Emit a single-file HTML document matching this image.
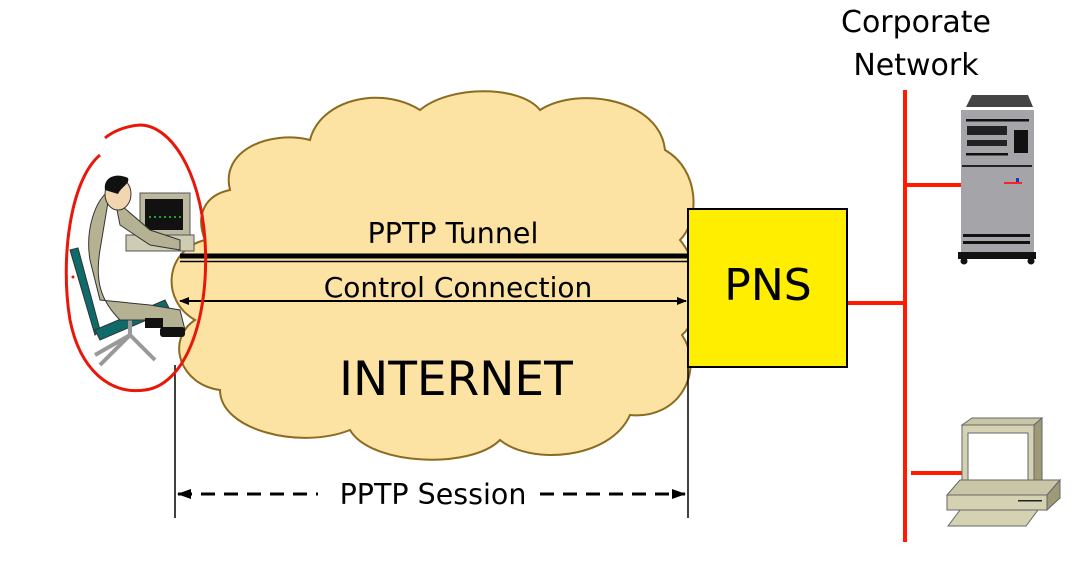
<!DOCTYPE html>
<html><head><meta charset="utf-8"><style>
html,body{margin:0;padding:0;background:#fff;}
svg{display:block;}
text{font-family:"DejaVu Sans","Liberation Sans",sans-serif;fill:#000;}
</style></head><body>
<svg width="1090" height="573" viewBox="0 0 1090 573" xmlns="http://www.w3.org/2000/svg">
<defs>
<marker id="ah" markerWidth="10" markerHeight="10" refX="9" refY="5" orient="auto-start-reverse" markerUnits="userSpaceOnUse"><path d="M0,1 L10,5 L0,9 z" fill="#000"/></marker>
<marker id="ah2" markerWidth="14" markerHeight="12" refX="13" refY="6" orient="auto-start-reverse" markerUnits="userSpaceOnUse"><path d="M0,1 L14,6 L0,11 z" fill="#000"/></marker>
</defs>
<path d="M230,190 C220,150 270,130 310,140 C320,100 380,85 420,110 C450,85 520,85 540,110 C580,85 660,100 665,150 C700,170 700,220 680,240 C705,270 700,320 682,335 C705,370 680,420 630,415 C610,460 530,465 500,440 C470,470 370,465 350,430 C300,450 220,430 220,390 C180,385 165,340 195,320 C160,300 165,250 205,240 C195,215 205,195 230,190 Z" fill="#fde3a3" stroke="#8b6b1f" stroke-width="2"/>
<line x1="180" y1="256" x2="688" y2="256" stroke="#000" stroke-width="5"/>
<line x1="180" y1="261.5" x2="688" y2="261.5" stroke="#000" stroke-width="1.5"/>
<text x="453" y="243" font-size="28.5" text-anchor="middle">PPTP Tunnel</text>
<text x="458" y="297" font-size="28" text-anchor="middle">Control Connection</text>
<line x1="180" y1="301" x2="686" y2="301" stroke="#000" stroke-width="2" marker-start="url(#ah)" marker-end="url(#ah)"/>
<text x="456" y="395" font-size="47" text-anchor="middle">INTERNET</text>
<rect x="688" y="209" width="159" height="158" fill="#ffee00" stroke="#000" stroke-width="2"/>
<text x="768" y="300" font-size="44" text-anchor="middle">PNS</text>
<line x1="175" y1="365" x2="175" y2="518" stroke="#000" stroke-width="1.5"/>
<line x1="688" y1="367" x2="688" y2="518" stroke="#000" stroke-width="1.5"/>
<line x1="178" y1="494" x2="318" y2="494" stroke="#000" stroke-width="3" stroke-dasharray="14,9" marker-start="url(#ah2)"/>
<line x1="540" y1="494" x2="685" y2="494" stroke="#000" stroke-width="3" stroke-dasharray="14,9" marker-end="url(#ah2)"/>
<text x="433" y="504" font-size="28.5" text-anchor="middle">PPTP Session</text>
<text x="916" y="32" font-size="30" text-anchor="middle">Corporate</text>
<text x="916" y="75" font-size="30" text-anchor="middle">Network</text>
<line x1="905" y1="90" x2="905" y2="542" stroke="#ff1a00" stroke-width="4"/>
<line x1="848" y1="303" x2="905" y2="303" stroke="#ff1a00" stroke-width="4"/>
<line x1="905" y1="185" x2="962" y2="185" stroke="#ff1a00" stroke-width="4"/>
<line x1="911" y1="473" x2="968" y2="473" stroke="#ff1a00" stroke-width="4"/>
<polygon points="966,107 972,95 1028,95 1033,107" fill="#444"/>
<rect x="961" y="110" width="73" height="142" fill="#a5a4a8"/>
<rect x="966" y="119" width="63" height="2.5" fill="#111"/>
<rect x="967" y="126" width="40" height="9" fill="#222"/>
<rect x="967" y="140" width="40" height="6" fill="#222"/>
<rect x="1014" y="130" width="14" height="23" fill="#111"/>
<rect x="966" y="153" width="42" height="2.5" fill="#111"/>
<rect x="962" y="165" width="70" height="2" fill="#222"/>
<rect x="1004" y="182" width="18" height="2" fill="#f22"/>
<rect x="1016" y="178" width="3" height="4" fill="#23c"/>
<rect x="963" y="234" width="67" height="3" fill="#111"/>
<rect x="963" y="241" width="67" height="3" fill="#111"/>
<rect x="958" y="252" width="78" height="7" fill="#111"/>
<circle cx="964" cy="261" r="3.5" fill="#111"/><circle cx="1031" cy="261" r="3.5" fill="#111"/>
<polygon points="962,425 972,418 1042,418 1034,425" fill="#c9c6a8" stroke="#666"/>
<polygon points="1034,425 1042,418 1042,480 1034,488" fill="#9e9a78" stroke="#666"/>
<rect x="962" y="425" width="72" height="63" fill="#d5d2b4" stroke="#666"/>
<rect x="968" y="433" width="60" height="48" fill="#fff" stroke="#666"/>
<polygon points="947,495 960,480 1060,480 1047,495" fill="#c9c6a8" stroke="#666"/>
<rect x="947" y="495" width="100" height="15" fill="#d5d2b4" stroke="#666"/>
<polygon points="1047,495 1060,480 1060,498 1047,510" fill="#9e9a78" stroke="#666"/>
<rect x="1018" y="500" width="24" height="1.5" fill="#222"/>
<polygon points="948,526 960,510 1038,510 1026,526" fill="#d5d2b4" stroke="#666"/>
<rect x="140" y="193" width="50" height="42" fill="#bcb9a0" stroke="#555"/>
<rect x="145" y="199" width="38" height="31" fill="#111"/>
<line x1="149" y1="217" x2="181" y2="217" stroke="#3c3" stroke-width="1.5" stroke-dasharray="2,3"/>
<rect x="126" y="235" width="68" height="16" fill="#cfccb4" stroke="#555"/>
<polygon points="70,250 78,248 100,330 95,335" fill="#0f6a6a" stroke="#333"/>
<polygon points="95,330 165,300 170,310 100,340" fill="#0f6a6a" stroke="#333"/>
<path d="M130,320 L130,335 M130,335 L95,355 M130,335 L155,360 M130,335 L100,365" stroke="#999" stroke-width="4" fill="none"/>
<path d="M110,190 C95,200 85,230 90,260 L100,300 L150,305 L180,310 L185,330 L165,330 L150,320 L120,320 C100,300 95,280 100,250 Z" fill="#b5b193" stroke="#333"/>
<path d="M115,200 L150,230 L180,240 L180,250 L150,245 L120,225 Z" fill="#b5b193" stroke="#333"/>
<ellipse cx="118" cy="194" rx="13" ry="16" fill="#f1d6b0" stroke="#333"/>
<path d="M105,190 C103,178 115,172 128,178 C130,184 122,186 118,194 Z" fill="#111"/>
<rect x="145" y="318" width="18" height="10" fill="#111"/>
<rect x="160" y="327" width="25" height="10" rx="3" fill="#111"/>
<path d="M100,155 C70,180 60,260 70,320 C80,370 110,395 145,390 C185,385 210,320 205,240 C200,170 170,125 140,125 C125,126 112,132 105,138" fill="none" stroke="#e8170a" stroke-width="3"/>
<circle cx="73" cy="277" r="1.5" fill="#e8170a"/>
</svg>
</body></html>
